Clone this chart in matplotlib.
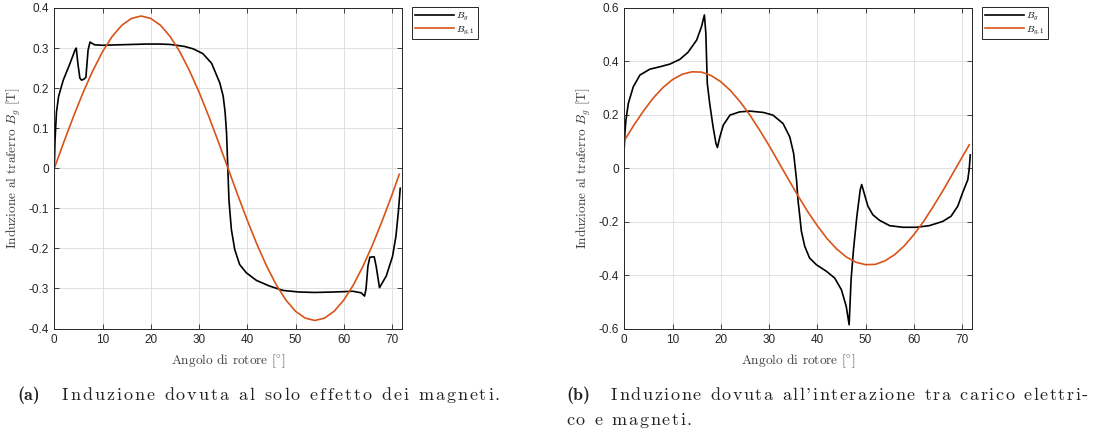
import matplotlib
matplotlib.use("Agg")
import matplotlib.pyplot as plt

plt.rcParams['font.family'] = ['Liberation Sans', 'DejaVu Sans']
plt.rcParams['mathtext.fontset'] = 'cm'
plt.rcParams['axes.unicode_minus'] = False

# (a) solo magneti
ang_a = [0, 0.15, 0.45, 0.9, 1.86, 3.2, 4.3, 4.55, 4.9, 5.3, 5.65, 6.1, 6.55, 7.0, 7.4,
         7.8, 8.4, 10, 13, 16, 19, 22, 24, 25.3, 27, 28.8, 30.8, 32.6, 34.3, 35.0,
         35.4, 35.7, 36.2, 36.7, 37.4, 38.4, 39.8, 41.9, 44.6, 47.4, 50.8, 54, 57.7, 60,
         61.9, 63.6, 64.3, 64.6, 65.0, 65.4, 66.3, 66.7, 67.1, 67.4, 68.8, 70.1, 70.8,
         71.3, 71.7]
bg_a = [0, 0.07, 0.14, 0.18, 0.22, 0.26, 0.295, 0.30, 0.26, 0.225, 0.22, 0.222, 0.227,
        0.295, 0.315, 0.312, 0.308, 0.307, 0.308, 0.309, 0.31, 0.31, 0.309, 0.307, 0.304,
        0.298, 0.286, 0.262, 0.213, 0.18, 0.14, 0.088, -0.08, -0.153, -0.203, -0.24,
        -0.261, -0.28, -0.294, -0.305, -0.309, -0.31, -0.309, -0.308, -0.307, -0.311,
        -0.319, -0.302, -0.244, -0.222, -0.221, -0.244, -0.275, -0.298, -0.269, -0.22,
        -0.17, -0.11, -0.05]

ang1 = [0, 2, 4, 6, 8, 10, 12, 14, 16, 18, 20, 22, 24, 26, 28, 30, 32, 34, 36, 38, 40,
        42, 44, 46, 48, 50, 52, 54, 56, 58, 60, 62, 64, 66, 68, 70, 71.5]
bg1_a = [0, 0.066, 0.130, 0.190, 0.244, 0.291, 0.329, 0.357, 0.374, 0.380, 0.374, 0.357,
         0.329, 0.291, 0.244, 0.190, 0.130, 0.066, 0, -0.066, -0.130, -0.190, -0.244,
         -0.291, -0.329, -0.357, -0.374, -0.380, -0.374, -0.357, -0.329, -0.291, -0.244,
         -0.190, -0.130, -0.066, -0.015]

# (b) carico + magneti
ang_b = [0, 0.15, 0.34, 0.83, 1.86, 3.24, 5.3, 7.4, 9.45, 11.5, 13.2, 15.0, 16.0, 16.6,
         16.9, 17.2, 17.7, 18.4, 19.0, 19.3, 19.8, 20.5, 21.9, 23.9, 26.0, 28.8, 30.8,
         32.9, 34.3, 35.1, 35.7, 36.0, 36.3, 36.7, 37.4, 38.4, 39.8, 41.9, 43.6, 45.0,
         46.0, 46.6, 47.0, 47.5, 48.2, 48.9, 49.2, 49.8, 50.5, 51.5, 52.9, 55.0, 57.7,
         60.5, 63.2, 66.0, 67.7, 69.1, 70.1, 71.2, 71.5, 71.7]
bg_b = [0.08, 0.14, 0.18, 0.2425, 0.305, 0.349, 0.371, 0.38, 0.39, 0.4075, 0.434, 0.48,
        0.53, 0.574, 0.505, 0.3175, 0.2425, 0.155, 0.0925, 0.0775, 0.117, 0.161, 0.199,
        0.211, 0.214, 0.209, 0.199, 0.1675, 0.117, 0.055, -0.044, -0.12, -0.1675, -0.236,
        -0.2925, -0.336, -0.361, -0.386, -0.411, -0.455, -0.5175, -0.586, -0.4175, -0.305,
        -0.18, -0.08, -0.061, -0.099, -0.1425, -0.174, -0.195, -0.215, -0.221, -0.221,
        -0.215, -0.199, -0.18, -0.1425, -0.0925, -0.0425, 0.0, 0.05]
bg1_b = [0.103, 0.162, 0.215, 0.263, 0.302, 0.332, 0.352, 0.361, 0.360, 0.347, 0.324,
         0.291, 0.249, 0.200, 0.144, 0.085, 0.022, -0.041, -0.103, -0.162, -0.215, -0.263,
         -0.302, -0.332, -0.352, -0.361, -0.360, -0.347, -0.324, -0.291, -0.249, -0.200,
         -0.144, -0.085, -0.022, 0.041, 0.088]

xticks = [0, 10, 20, 30, 40, 50, 60, 70]
yticks_a = [-0.4, -0.3, -0.2, -0.1, 0, 0.1, 0.2, 0.3, 0.4]
yticks_b = [-0.6, -0.4, -0.2, 0, 0.2, 0.4, 0.6]

W, H = 1093, 434
fig = plt.figure(figsize=(W / 100, H / 100), dpi=100)

panels = [
    (54.3, ang_a, bg_a, bg1_a, yticks_a, (-0.4, 0.4)),
    (624.3, ang_b, bg_b, bg1_b, yticks_b, (-0.6, 0.6)),
]

for x0, xb, yb, y1, yt, ylim in panels:
    ax = fig.add_axes([x0 / W, 1 - 328.5 / H, 347.4 / W, 320.5 / H])
    ax.plot(xb, yb, color='black', lw=1.2, label=r'$B_g$')
    ax.plot(ang1, y1, color='#D95319', lw=1.2, label=r'$B_{g,1}$')
    ax.set_xlim(0, 72)
    ax.set_ylim(*ylim)
    ax.set_xticks(xticks)
    ax.set_yticks(yt)
    ax.set_yticklabels(['0' if v == 0 else ('%g' % v) for v in yt])
    ax.grid(True, color='#dcdcdc', lw=0.6)
    ax.set_axisbelow(True)
    ax.tick_params(direction='in', top=True, right=True, length=3.5, width=0.6,
                   labelsize=8.5, colors='#262626', pad=4)
    for s in ax.spines.values():
        s.set_color('#262626')
        s.set_linewidth(0.7)
    fig.text((x0 + 173.7) / W, 1 - 361 / H, r'Angolo di rotore $[^{\circ}]$',
             ha='center', va='center', fontsize=9.6, family='cmr10', color='#404040')
    fig.text((x0 - 40) / W, 1 - 168 / H, r'Induzione al traferro $B_g$ [T]',
             rotation=90, ha='center', va='center', fontsize=9.6, family='cmr10',
             color='#404040')
    leg = ax.legend(loc='upper left', bbox_to_anchor=(1 + 10 / 347.4, 1.003),
                    borderaxespad=0, fontsize=7, fancybox=False, framealpha=1,
                    edgecolor='#262626', handlelength=4.0, handletextpad=0.3,
                    borderpad=0.3, labelspacing=0.1)
    leg.get_frame().set_linewidth(0.7)

renderer = fig.canvas.get_renderer()


def text_w(s, **kw):
    t = fig.text(0, 0, s, **kw)
    w = t.get_window_extent(renderer).width
    t.remove()
    return w


def spaced_text(s, x_start, x_end, y, **kw):
    # caption with letter spacing stretched between x_start and x_end (pixels)
    ref = text_w('x', **kw)
    adv = [text_w(s[:i] + 'x', **kw) - ref if i else 0 for i in range(len(s))]
    total = text_w(s, **kw)
    track = (x_end - x_start - total) / (len(s) - 1)
    for i, ch in enumerate(s):
        if ch != ' ':
            fig.text((x_start + adv[i] + i * track) / W, 1 - y / H, ch,
                     ha='left', va='baseline', **kw)


cap_kw = dict(fontsize=13, color='#222222', family='cmr10')
cap_b = dict(fontsize=13, color='#222222', family='cmb10')
fig.text(17 / W, 1 - 400 / H, '(a)', ha='left', va='baseline', **cap_b)
spaced_text('Induzione dovuta al solo effetto dei magneti.', 61.7, 500, 400, **cap_kw)
fig.text(566 / W, 1 - 400 / H, '(b)', ha='left', va='baseline', **cap_b)
spaced_text("Induzione dovuta all'interazione tra carico elettri-", 611, 1088, 400, **cap_kw)
spaced_text('co e magneti.', 566, 692, 425, **cap_kw)

fig.savefig('out.png', dpi=100)
